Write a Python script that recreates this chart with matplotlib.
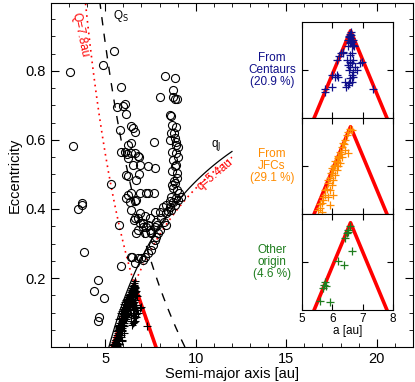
import matplotlib
matplotlib.use('Agg')
import matplotlib.pyplot as plt
import numpy as np

plt.rcParams['font.family'] = ['Liberation Sans', 'DejaVu Sans']

#Orbital boundaries (au)
Q_LIM = 7.8   #aphelion limit
Q_LOW = 5.4   #perihelion limit
QJ = 5.2      #Jupiter
QS = 9.4      #Saturn curve

#Captured objects, by origin (a in au, e)
blue_a = [6.58, 6.56, 6.60, 6.53, 6.64, 6.69, 6.58, 6.67, 6.53, 6.73, 6.34, 6.27, 6.23, 6.36, 6.15,
          6.66, 6.58, 6.47, 6.58, 6.69, 6.97, 6.91, 6.53, 6.58, 6.64, 6.75, 6.56, 6.69, 6.80, 5.98,
          6.14, 6.20, 6.09, 6.64, 6.58, 6.69, 6.42, 6.56, 6.64, 6.45, 6.53, 5.98, 5.76, 5.76, 7.33,
          6.60, 6.62, 6.55, 6.62, 6.57, 6.65]
blue_e = [0.176, 0.169, 0.166, 0.162, 0.159, 0.162, 0.156, 0.152, 0.149, 0.149, 0.138, 0.135, 0.129, 0.136, 0.121,
          0.135, 0.131, 0.121, 0.117, 0.121, 0.117, 0.114, 0.110, 0.107, 0.114, 0.107, 0.100, 0.096, 0.100, 0.090,
          0.090, 0.086, 0.086, 0.090, 0.083, 0.086, 0.076, 0.072, 0.076, 0.065, 0.069, 0.065, 0.060, 0.055, 0.060,
          0.180, 0.172, 0.170, 0.160, 0.158, 0.150]

orange_a = [6.58, 6.64, 6.53, 6.47, 6.42, 6.36, 6.31, 6.53, 6.42, 6.25, 6.31, 6.20, 6.14, 6.25, 6.09,
            6.20, 6.03, 6.14, 5.98, 6.09, 5.92, 6.03, 5.87, 5.98, 5.81, 5.92, 6.03, 5.76, 5.87, 5.70,
            5.92, 5.65, 5.59, 5.65, 5.54, 6.00, 6.05, 5.85, 5.95, 6.18, 6.28, 6.40, 5.75, 5.68, 5.60,
            6.10, 6.22]
orange_e = [0.178, 0.175, 0.171, 0.165, 0.154, 0.147, 0.140, 0.128, 0.133, 0.130, 0.119, 0.116, 0.109, 0.106, 0.102,
            0.099, 0.092, 0.092, 0.085, 0.081, 0.074, 0.071, 0.064, 0.060, 0.053, 0.050, 0.040, 0.040, 0.036, 0.029,
            0.019, 0.022, 0.012, 0.005, 0.008, 0.095, 0.100, 0.070, 0.085, 0.120, 0.125, 0.145, 0.050, 0.035, 0.020,
            0.110, 0.118]

green_a = [6.58, 6.53, 6.47, 6.50, 6.42, 6.64, 6.18, 6.40, 5.76, 5.73, 5.79, 5.70, 5.59, 5.92]
green_e = [0.175, 0.167, 0.160, 0.162, 0.149, 0.122, 0.103, 0.094, 0.059, 0.052, 0.050, 0.045, 0.019, 0.016]

#Remaining captured objects (only in main panel)
other_a = [5.45, 5.50, 5.55, 5.48, 5.60, 5.58, 5.65, 5.62, 5.70, 5.68, 5.75, 5.80, 5.78, 5.85, 5.90,
           5.88, 5.95, 6.00, 6.05, 6.02, 6.10, 6.15, 6.20, 6.25, 6.30, 6.35, 6.40, 6.45, 6.50, 6.55,
           6.60, 6.62, 5.70, 5.80, 5.90, 6.00, 6.10, 6.20, 6.30, 6.40, 5.55, 5.62, 5.75, 5.85, 5.95,
           6.05, 6.15, 6.25, 6.35, 6.45, 6.55, 5.65, 5.72, 5.82, 5.92, 6.08, 6.18, 6.28, 6.38, 6.48]
other_e = [0.005, 0.010, 0.015, 0.008, 0.020, 0.030, 0.035, 0.045, 0.050, 0.060, 0.065, 0.070, 0.080, 0.085, 0.090,
           0.100, 0.105, 0.110, 0.115, 0.125, 0.130, 0.135, 0.140, 0.145, 0.150, 0.155, 0.160, 0.165, 0.170, 0.178,
           0.185, 0.190, 0.025, 0.040, 0.055, 0.070, 0.090, 0.100, 0.115, 0.130, 0.002, 0.004, 0.010, 0.030, 0.045,
           0.060, 0.080, 0.095, 0.110, 0.140, 0.150, 0.012, 0.040, 0.055, 0.070, 0.100, 0.115, 0.130, 0.142, 0.155]

#Non-captured objects
circ_a = [3.04, 3.23, 3.50, 3.69, 3.74, 3.83, 4.60, 4.40, 4.93, 4.66, 4.57, 5.74, 5.89, 5.30, 4.88, 5.48,
          5.85, 5.62, 5.98, 6.07, 6.17, 5.84, 6.44, 6.53, 6.63, 6.26, 6.44, 5.89, 6.07, 6.22, 6.26, 6.44,
          6.63, 6.81, 6.86, 6.53, 6.90, 7.36, 6.13, 6.26, 6.86, 6.72, 7.69,
          8.28, 8.83, 8.00, 8.74, 8.87, 8.96, 8.74, 8.59, 8.65, 8.70, 8.92, 8.65, 8.79, 8.55, 8.83, 8.92,
          9.01, 8.92, 9.01, 8.83, 8.70, 8.74, 8.98, 8.83, 8.74, 8.98, 8.65, 8.92, 8.90, 8.68, 8.95, 7.73,
          6.26, 6.44, 6.72, 6.63, 7.36, 7.69, 6.35, 6.44, 6.63, 6.90, 7.18, 7.45, 7.73, 8.00, 8.18, 8.37,
          8.55, 8.74, 8.83, 8.65, 9.01, 9.16, 6.17, 6.90, 6.81, 7.27, 7.08, 7.27, 7.45, 7.55, 7.82, 8.37,
          8.92, 8.70, 8.80, 9.10,
          6.50, 6.81, 6.63, 7.08, 7.21, 7.36, 7.55, 7.63, 7.73, 7.82, 7.91, 8.00, 7.88, 8.24, 6.81, 7.08,
          7.36, 7.18, 6.72, 7.55, 7.73, 8.37, 6.90, 6.59, 6.99, 6.44, 8.10, 8.45, 8.60]
circ_e = [0.798, 0.583, 0.399, 0.412, 0.418, 0.276, 0.195, 0.162, 0.143, 0.088, 0.075, 0.353, 0.236, 0.473, 0.817, 0.859,
          0.754, 0.695, 0.699, 0.703, 0.674, 0.629, 0.641, 0.636, 0.624, 0.585, 0.590, 0.564, 0.566, 0.558, 0.547, 0.561,
          0.563, 0.554, 0.550, 0.527, 0.528, 0.524, 0.499, 0.496, 0.501, 0.484, 0.593,
          0.786, 0.779, 0.724, 0.725, 0.719, 0.718, 0.745, 0.672, 0.670, 0.643, 0.639, 0.620, 0.620, 0.600, 0.605, 0.595,
          0.581, 0.561, 0.552, 0.525, 0.566, 0.542, 0.503, 0.474, 0.460, 0.455, 0.436, 0.528, 0.585, 0.510, 0.490, 0.518,
          0.441, 0.445, 0.426, 0.424, 0.447, 0.446, 0.421, 0.397, 0.373, 0.387, 0.380, 0.373, 0.392, 0.392, 0.407, 0.412,
          0.424, 0.421, 0.412, 0.397, 0.426, 0.436, 0.431, 0.445, 0.373, 0.445, 0.359, 0.349, 0.339, 0.330, 0.363, 0.387,
          0.431, 0.470, 0.480, 0.445,
          0.262, 0.257, 0.244, 0.252, 0.262, 0.272, 0.281, 0.296, 0.310, 0.320, 0.330, 0.339, 0.354, 0.363, 0.339, 0.349,
          0.354, 0.330, 0.330, 0.334, 0.349, 0.354, 0.359, 0.368, 0.257, 0.260, 0.375, 0.395, 0.405]

RED = '#ff0000'
BLUE = '#10108a'
ORANGE = '#ff8c00'
GREEN = '#1e7d1e'

#Triangle bounded by q=5.4 and Q=7.8
a_peak = (Q_LIM + Q_LOW)/2
e_peak = 1 - Q_LOW/a_peak
tri_a = [Q_LOW, a_peak, Q_LIM]
tri_e = [0, e_peak, 0]

fig = plt.figure(figsize=(4.15, 3.82), dpi=100)
ax = fig.add_axes([0.1229, 0.0916, 0.8721, 0.9005])

#Boundary curves
e_all = np.linspace(0, 1, 200)
ax.plot(Q_LIM/(1 + e_all), e_all, color=RED, lw=1.2, dashes=(1, 2.5), zorder=1)
a_line = np.linspace(Q_LOW, 12, 100)
ax.plot(a_line, 1 - Q_LOW/a_line, color=RED, lw=1.2, dashes=(1, 2.5), zorder=1)
a_j = np.linspace(QJ, 12, 100)
ax.plot(a_j, 1 - QJ/a_j, color='black', lw=0.9, zorder=1)
ax.plot(QS/(1 + e_all), e_all, color='black', lw=1.0, dashes=(6, 6), zorder=1)
ax.plot(tri_a, tri_e, color=RED, lw=2.6, zorder=2)

ax.plot(circ_a, circ_e, 'o', mfc='none', mec='black', ms=5.8, mew=0.8, zorder=3)
all_a = blue_a + orange_a + green_a + other_a
all_e = blue_e + orange_e + green_e + other_e
ax.plot(all_a, all_e, '+', color='black', ms=6, mew=0.8, zorder=3)

ax.text(3.62, 0.905, 'Q=7.8au', color=RED, fontsize=8.5, rotation=-78, ha='center', va='center')
ax.text(5.42, 0.958, r'Q$_{\rm S}$', color='black', fontsize=8.5, ha='left', va='center')
ax.text(11.15, 0.585, r'q$_{\rm J}$', color='black', fontsize=8.5, ha='center', va='center')
ax.text(11.05, 0.50, 'q=5.4au', color=RED, fontsize=8.5, rotation=40, ha='center', va='center')

ax.set_xlim(2, 22)
ax.set_ylim(0, 0.997)
ax.set_xticks([5, 10, 15, 20])
ax.set_xticks(np.arange(2, 23, 1), minor=True)
ax.set_yticks([0.2, 0.4, 0.6, 0.8])
ax.set_yticks(np.arange(0.05, 1.0, 0.05), minor=True)
ax.tick_params(which='both', direction='in', top=True, right=True, labelsize=10.5)
ax.tick_params(which='major', length=6)
ax.tick_params(which='minor', length=3)
ax.set_xlabel('Semi-major axis [au]', fontsize=10.5, labelpad=1)
ax.set_ylabel('Eccentricity', fontsize=10.5, labelpad=3)

#Insets, one per origin
panels = [(blue_a, blue_e, BLUE, 'From\nCentaurs\n(20.9 %)', 0.6911),
          (orange_a, orange_e, ORANGE, 'From\nJFCs\n(29.1 %)', 0.4398),
          (green_a, green_e, GREEN, 'Other\norigin\n(4.6 %)', 0.1885)]
for i, (pa, pe, col, label, bot) in enumerate(panels):
    ins = fig.add_axes([0.7277, bot, 0.2193, 0.2513])
    ins.plot(tri_a, tri_e, color=RED, lw=2.6, zorder=1)
    ins.plot(pa, pe, '+', color=col, ms=6, mew=0.9, zorder=2)
    ins.set_xlim(5, 8)
    ins.set_ylim(0, 0.2)
    ins.set_xticks([5, 6, 7, 8])
    ins.set_yticks([0.1])
    ins.set_yticklabels([])
    ins.tick_params(direction='in', top=True, right=True, length=4, labelsize=8.5, pad=2)
    if i < 2:
        ins.set_xticklabels([])
    else:
        ins.set_xlabel('a [au]', fontsize=8.5, labelpad=0)
    ins.text(-0.33, 0.5, label, transform=ins.transAxes, color=col, fontsize=8.5,
             ha='center', va='center', linespacing=0.95)

fig.savefig('out.png', dpi=100)
